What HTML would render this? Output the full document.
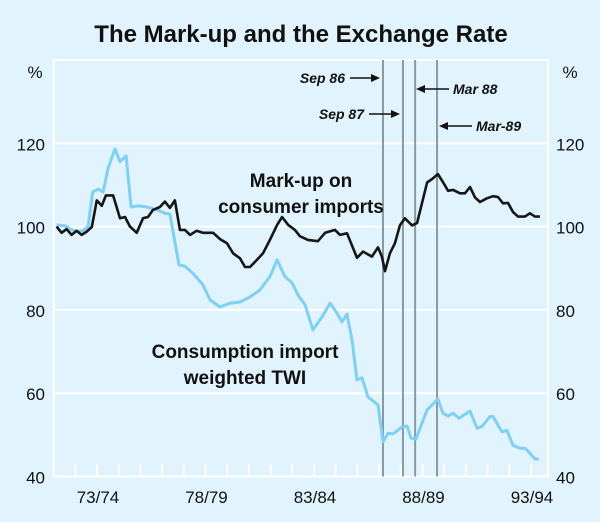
<!DOCTYPE html>
<html><head><meta charset="utf-8"><style>
body{margin:0;background:#e1f3fd;}
svg{display:block;font-family:"Liberation Sans",Arial,sans-serif;}
</style></head><body>
<svg id="chart" width="600" height="522" viewBox="0 0 600 522">
<rect x="0" y="0" width="600" height="522" fill="#e1f3fd"/>
<text x="301" y="42" text-anchor="middle" font-size="24" font-weight="bold" fill="#111">The Mark-up and the Exchange Rate</text>
<g id="grid"></g>
<g id="marks"></g>
<g id="labels"></g>
</svg>
<script>
const yTicks = [40, 60, 80, 100, 120];
const xLabels = ['73/74', '78/79', '83/84', '88/89', '93/94'];
const xLabelYears = [1973.5, 1978.5, 1983.5, 1988.5, 1993.5];
const eventDates = [1986.68, 1987.6, 1988.16, 1989.17];
const eventNames = ['Sep 86', 'Sep 87', 'Mar 88', 'Mar-89'];
const markupDates = [1971.64,1971.87,1972.10,1972.33,1972.56,1972.79,1973.03,1973.26,1973.49,1973.72,1973.91,1974.24,1974.56,1974.79,1975.02,1975.33,1975.62,1975.85,1976.08,1976.40,1976.63,1976.86,1977.09,1977.32,1977.55,1977.79,1978.09,1978.38,1978.62,1978.85,1979.17,1979.49,1979.77,1980.09,1980.32,1980.55,1980.87,1981.15,1981.47,1981.80,1982.03,1982.31,1982.62,1982.85,1983.22,1983.68,1984.01,1984.47,1984.70,1985.02,1985.48,1985.76,1986.17,1986.45,1986.63,1986.77,1987.00,1987.23,1987.46,1987.69,1988.02,1988.25,1988.71,1988.94,1989.21,1989.44,1989.68,1989.91,1990.23,1990.46,1990.69,1990.92,1991.15,1991.47,1991.75,1991.98,1992.21,1992.44,1992.67,1992.90,1993.22,1993.45,1993.68,1993.91];
const markupValues = [100,98.5,99.4,98,99,98,98.8,99.9,106.3,105,107.5,107.5,102,102.3,100,98.5,102,102.3,104,104.7,106,104.5,106.3,99.2,99.2,98,99,98.5,98.5,98.5,97,96,93.6,92.4,90.3,90.3,92,93.6,96.8,100.4,102.3,100.4,99.2,97.7,96.8,96.5,98.5,99.2,98,98.4,92.5,94,92.8,95,92.8,89.3,93.6,96,100.3,102,100.3,100.9,110.6,111.4,112.6,110.7,108.6,108.8,108,108,109.5,107,105.9,106.8,107.3,107.1,105.6,105.7,103.5,102.4,102.4,103.2,102.4,102.4];
const twiDates = [1971.64,1972.03,1972.26,1972.56,1972.85,1973.09,1973.30,1973.55,1973.78,1974.01,1974.33,1974.56,1974.84,1975.07,1975.39,1975.80,1976.27,1976.63,1976.86,1977.28,1977.55,1977.92,1978.38,1978.71,1979.17,1979.63,1980.09,1980.55,1981.01,1981.47,1981.80,1982.16,1982.49,1982.76,1983.09,1983.45,1983.87,1984.24,1984.56,1984.79,1985.02,1985.25,1985.48,1985.71,1985.99,1986.45,1986.68,1986.91,1987.14,1987.55,1987.79,1987.97,1988.20,1988.71,1989.21,1989.44,1989.68,1989.91,1990.18,1990.69,1991.01,1991.24,1991.61,1991.75,1992.16,1992.39,1992.67,1992.99,1993.22,1993.45,1993.68,1993.86];
const twiValues = [100.4,100.2,99.4,98.8,99,100,108.3,109,108.3,114,118.6,115.6,117,104.7,105,104.7,104,103.2,103,90.8,90.5,88.8,86,82.4,80.7,81.6,81.9,83.1,84.8,88,92,88,86.5,83.6,81.2,75.2,78.3,81.6,79.2,77.1,79,72.8,63.2,63.7,59.1,57.2,48.3,50.4,50.2,51.9,52.1,49.2,49,56,58.6,55.2,54.5,55.2,54,55.7,51.6,52,54.4,54.4,50.7,51.1,47.5,46.8,46.8,45.6,44.2,44.2];

const NS = 'http://www.w3.org/2000/svg';
const L = 53.6, R = 548, T = 60, B = 476.5;
const x = yr => L + (yr - 1971.5) * 21.7;
const y = v => B - (v - 40) * (B - T) / 100;
function mk(tag, attrs, parent, text) {
  const e = document.createElementNS(NS, tag);
  for (const k in attrs) e.setAttribute(k, attrs[k]);
  if (text !== undefined) e.textContent = text;
  parent.appendChild(e);
  return e;
}
const grid = document.getElementById('grid');
const marks = document.getElementById('marks');
const labels = document.getElementById('labels');

const frame = mk('rect', {x: L, y: T, width: R - L, height: B - T, fill: 'none', stroke: '#fff', 'stroke-width': 2}, grid);


yTicks.forEach(v => {
  const g = mk('line', {x1: L, x2: R, y1: y(v), y2: y(v), stroke: '#fff', 'stroke-width': 2}, grid);
  
  
  const tl = mk('text', {x: 45, y: y(v) + 7, 'text-anchor': 'end', 'font-size': 17, fill: '#111'}, labels, String(v));
  
  
  const tr = mk('text', {x: 556, y: y(v) + 7, 'text-anchor': 'start', 'font-size': 17, fill: '#111'}, labels, String(v));
  
  
});
for (let yr = 1972.5; yr < 1994.3; yr += 1) {
  const t = mk('line', {x1: x(yr), x2: x(yr), y1: B, y2: B - 12, stroke: '#fff', 'stroke-width': 2}, grid);
  
  
}
xLabels.forEach((s, i) => {
  const t = mk('text', {x: x(xLabelYears[i]) + 1, y: 503, 'text-anchor': 'middle', 'font-size': 17, fill: '#111'}, labels, s);
  
  
});
const pl = mk('text', {x: 35, y: 78, 'text-anchor': 'middle', 'font-size': 17, fill: '#111'}, labels, '%');


const pr = mk('text', {x: 570, y: 78, 'text-anchor': 'middle', 'font-size': 17, fill: '#111'}, labels, '%');



eventDates.forEach((d, i) => {
  const l = mk('line', {x1: x(d), x2: x(d), y1: T, y2: B, stroke: '#8a9aa2', 'stroke-width': 2}, marks);
  
  
});

function line(dates, vals, color, w, name) {
  const p = mk('polyline', {points: dates.map((d, i) => x(d).toFixed(1) + ',' + y(vals[i]).toFixed(1)).join(' '), fill: 'none', stroke: color, 'stroke-width': w, 'stroke-linejoin': 'round'}, marks);
  
  
}
line(twiDates, twiValues, '#80d0f2', 3, 'twi-line');
line(markupDates, markupValues, '#161616', 2.6, 'markup-line');

function ann(lines, cx, y0, name) {
  lines.forEach((s, i) => {
    const t = mk('text', {x: cx, y: y0 + i * 26, 'text-anchor': 'middle', 'font-size': 19, 'font-weight': 'bold', fill: '#111'}, labels, s);
    
    
  });
}
ann(['Mark-up on', 'consumer imports'], 301, 187, 'markup-series-label');
ann(['Consumption import', 'weighted TWI'], 245, 358, 'twi-series-label');

const evText = [[345, 83, 'end', 'Sep 86', 350, 377], [364, 119, 'end', 'Sep 87', 369, 397], [453, 94, 'start', 'Mar 88', 449, 419], [476, 131, 'start', 'Mar-89', 472, 442]];
evText.forEach(e => {
  const t = mk('text', {x: e[0], y: e[1], 'text-anchor': e[2], 'font-size': 14, 'font-weight': 'bold', 'font-style': 'italic', fill: '#111'}, labels, e[3]);
  
  
  const ay = e[1] - 5;
  const a = mk('line', {x1: e[4], x2: e[5], y1: ay, y2: ay, stroke: '#111', 'stroke-width': 1.6}, labels);
  
  
  const dir = e[5] > e[4] ? 1 : -1;
  const h = mk('polygon', {points: (e[5] + dir * 3) + ',' + ay + ' ' + (e[5] - dir * 6) + ',' + (ay - 4) + ' ' + (e[5] - dir * 6) + ',' + (ay + 4), fill: '#111'}, labels);
  
  
});
</script>
</body></html>
